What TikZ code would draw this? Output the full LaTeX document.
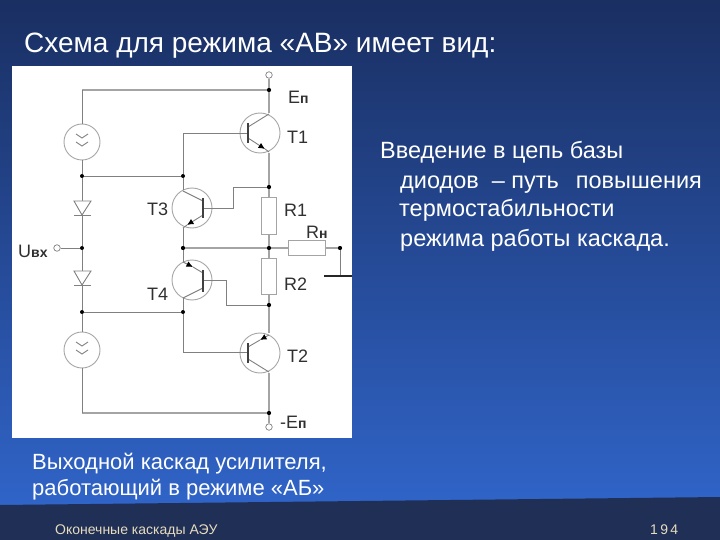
\documentclass[tikz,border=0pt]{standalone}
\usepackage{fontspec}
\setmainfont{Liberation Sans}
\usetikzlibrary{arrows, arrows.meta}
\definecolor{wirecol}{HTML}{808080}
\definecolor{railcol}{HTML}{A4A4A4}
\definecolor{inkcol}{HTML}{303030}
\definecolor{footcol}{HTML}{1F2F55}
\definecolor{footink}{HTML}{E8DCC0}
\definecolor{topblue}{HTML}{1A2F62}
\definecolor{lowblue}{HTML}{3064C8}
\tikzset{
    wire/.style={draw=wirecol, line width=0.9pt},
    rail/.style={draw=railcol, line width=2pt},
    dotnode/.style={circle, fill=black, inner sep=0pt, minimum size=4pt},
    termnode/.style={circle, draw=wirecol, fill=white, line width=0.7pt, inner sep=0pt, minimum size=6.5pt},
    trans/.style={circle, draw=wirecol!70, line width=0.9pt, inner sep=0pt, minimum size=40pt},
    source/.style={circle, draw=wirecol!70, line width=0.9pt, inner sep=0pt, minimum size=36pt},
    resist/.style={draw=railcol, fill=white, line width=1pt, inner sep=0pt, minimum width=15pt, minimum height=36pt},
    resisth/.style={draw=railcol, fill=white, line width=1pt, inner sep=0pt, minimum width=37pt, minimum height=15pt},
    lab/.style={anchor=base west, inner sep=0pt, text=inkcol, font=\fontsize{18}{20}\selectfont},
    txt/.style={anchor=base west, inner sep=0pt, text=white, font=\fontsize{23.5}{26}\selectfont},
    txtb/.style={anchor=base west, inner sep=0pt, text=white, font=\fontsize{22}{26}\selectfont},
    foottxt/.style={anchor=base west, inner sep=0pt, text=footink, font=\fontsize{14}{16}\selectfont},
    bar/.style={draw=black!75, line width=1.7pt},
    tip/.style={-{Latex[length=6.5pt,width=6pt,color=black]}, draw=wirecol, line width=0.9pt}
}
\newcommand{\sublab}[1]{{\fontsize{14}{14}\selectfont\bfseries #1}}
\begin{document}
\begin{tikzpicture}[x=1pt, y=-1pt]
    \useasboundingbox (0,0) rectangle (720,540);
    % background
    \shade[top color=topblue, bottom color=lowblue] (0,0) rectangle (720,506);
    \fill[footcol] (0,505) -- (720,497) -- (720,540) -- (0,540) -- cycle;
    \fill[white] (12,66) rectangle (352,438);

    % points on the rails
    \node[termnode] (top) at (269,75) {};
    \node[termnode] (bot) at (269,427) {};
    \node[termnode] (uin) at (57,248) {};
    \node[dotnode] (j1) at (269,90) {};
    \node[dotnode] (j2) at (82,176) {};
    \node[dotnode] (j3) at (183,176) {};
    \node[dotnode] (j4) at (269,187) {};
    \node[dotnode] (j5) at (82,248) {};
    \node[dotnode] (j6) at (183,248) {};
    \node[dotnode] (j7) at (269,248) {};
    \node[dotnode] (j8) at (340,248) {};
    \node[dotnode] (j9) at (269,305) {};
    \node[dotnode] (j10) at (82,312) {};
    \node[dotnode] (j11) at (183,312) {};
    \node[dotnode] (j12) at (269,413) {};
    \coordinate (c1) at (82,90);
    \coordinate (c2) at (82,413);
    \coordinate (c3) at (340,276);

    % elements
    \node[source] (s1) at (82,142) {};
    \node[source] (s2) at (82,350) {};
    \node[trans] (t1) at (260,133) {};
    \node[trans] (t2) at (260,353) {};
    \node[trans] (t3) at (192,208) {};
    \node[trans] (t4) at (192,280) {};
    \coordinate (d1) at (82,215);
    \coordinate (d2) at (82,285);

    % wires
    \draw[rail] (top) -- (j1) -- (269,113);
    \draw[rail] (269,153) -- (j4);
    \draw[rail] (j9) -- (269,333);
    \draw[rail] (269,373) -- (j12) -- (bot);
    \draw[rail] (j1) -- (c1);
    \draw[rail] (j12) -- (c2);
    \draw[wire] (c1) -- (s1);
    \draw[wire] (s1) -- (j2) -- (j5) -- (j10) -- (s2);
    \draw[wire] (s2) -- (c2);
    \draw[wire] (j2) -- (j3);
    \draw[wire] (j10) -- (j11);
    \draw[wire] (uin) -- (j5);
    \draw[wire] (j3) |- (248,133);
    \draw[wire] (j11) |- (248,352);
    \draw[wire] (j3) -- (183,190);
    \draw[wire] (183,228) -- (j6) -- (183,262);
    \draw[wire] (183,298) -- (j11);
    \draw[wire] (203,208) -- (233,208) -- (233,187) -- (j4);
    \draw[wire] (203,280) -- (226,280) -- (226,305) -- (j9);
    \draw[rail] (j6) -- (j7);
    \draw[rail] (j4) -- (j7) -- (j9);
    \draw[rail] (j7) -- (j8);
    \draw[wire] (j8) -- (c3);
    \draw[black!85, line width=2pt] (324,276) -- (352,276);
    \foreach \jn in {j1,j4,j6,j7,j8,j9,j12}{
        \fill (\jn) circle (2pt);
    }

    % resistors
    \node[resist] (r1) at (269,216) {};
    \node[resist] (r2) at (269,276) {};
    \node[resisth] (rn) at (307,248) {};

    % transistors
    \draw[wire] (248,127) -- (269,114);
    \draw[tip] (248,138) -- (265,149);
    \draw[wire] (265,149) -- (269,152);
    \draw[bar] (248,123) -- (248,143);
    \draw[wire] (248,359) -- (269,372);
    \draw[tip] (269,335) -- (260,340);
    \draw[wire] (260,340) -- (248,347);
    \draw[bar] (248,343) -- (248,363);
    \draw[wire] (183,191) -- (203,201);
    \draw[wire] (203,215) -- (195,220);
    \draw[tip] (195,220) -- (187,225);
    \draw[wire] (187,225) -- (183,228);
    \draw[bar] (203,198) -- (203,218);
    \draw[tip] (183,262) -- (193,267);
    \draw[wire] (193,267) -- (203,273);
    \draw[wire] (203,288) -- (183,298);
    \draw[bar] (203,270) -- (203,292);

    % diodes
    \draw[wire, fill=white] (74,201) -- (91,201) -- (d1) -- cycle;
    \draw[wire] (74,215) -- (91,215);
    \draw[wire, fill=white] (74,271) -- (91,271) -- (d2) -- cycle;
    \draw[wire] (74,285) -- (91,285);

    % arrows inside the sources
    \foreach \y in {138,146}{
        \draw[wire] (76,\y-4) -- (82,\y) -- (88,\y-4);
    }
    \foreach \y in {346,354}{
        \draw[wire] (76,\y-4) -- (82,\y) -- (88,\y-4);
    }

    % labels
    \node[lab] (le1) at (288,104) {E\sublab{п}};
    \node[lab] (lt1) at (287,144) {T1};
    \node[lab] (lt3) at (147,215) {T3};
    \node[lab] (lr1) at (284,216) {R1};
    \node[lab] (lrn) at (306,238) {R\sublab{н}};
    \node[lab] (lr2) at (284,290) {R2};
    \node[lab] (lt4) at (147,300) {T4};
    \node[lab] (lt2) at (287,362) {T2};
    \node[lab] (le2) at (280,428) {-E\sublab{п}};
    \node[lab] (lu) at (18,258) {U\sublab{вх}};

    % texts
    \node[txt, font=\fontsize{28}{32}\selectfont] (title) at (24,53) {Схема для режима «АВ» имеет вид:};
    \node[txt] (t1a) at (380,159) {Введение в цепь базы};
    \node[txt] (t1b) at (400,189) {диодов\ \ – путь\ \ \,повышения};
    \node[txt] (t1c) at (399,217) {термостабильности};
    \node[txt] (t1d) at (400,246) {режима работы каскада.};
    \node[txtb] (t2a) at (32,469) {Выходной каскад усилителя,};
    \node[txtb] (t2b) at (32,495) {работающий в режиме «АБ»};
    \node[foottxt] (foot) at (55,534) {Оконечные каскады АЭУ};
    \node[foottxt] (page) at (650,534) {1\,9\,4};
\end{tikzpicture}
\end{document}
